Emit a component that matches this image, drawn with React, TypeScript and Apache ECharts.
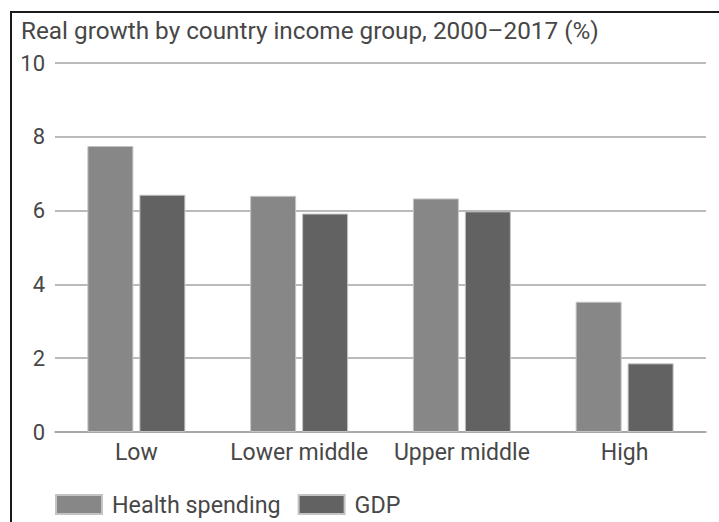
import React, { useEffect, useRef } from "react";
import * as echarts from "echarts";

const categories = ["Low", "Lower middle", "Upper middle", "High"];
const healthSpending = [7.75, 6.4, 6.33, 3.53];
const gdp = [6.43, 5.92, 5.98, 1.86];
const seriesNames = ["Health spending", "GDP"];
const titleText = "Real growth by country income group, 2000–2017 (%)";

const FONT = "Roboto, 'DejaVu Sans', sans-serif";
const TEXT = "#474747";

export default function App() {
  const ref = useRef<HTMLDivElement>(null);
  useEffect(() => {
    if (!ref.current) return;
    const chart = echarts.init(ref.current, undefined, { renderer: "svg" });
    chart.setOption({
      animation: false,
      backgroundColor: "#ffffff",
      textStyle: { fontFamily: FONT },
      title: {
        text: titleText,
        left: 21,
        top: 18,
        padding: 0,
        textStyle: { fontFamily: FONT, fontSize: 24.3, fontWeight: "normal", color: TEXT },
      },
      graphic: [
        {
          type: "polyline",
          shape: { points: [[11, 522], [11, 12], [719, 12]] },
          style: { stroke: "#1a1a1a", lineWidth: 2, fill: "none" },
          silent: true,
        },
      ],
      legend: {
        left: 55,
        top: 493,
        padding: 0,
        itemWidth: 46,
        itemHeight: 19,
        itemGap: 17,
        icon: "rect",
        textStyle: { fontFamily: FONT, fontSize: 23.3, color: TEXT, padding: [0, 0, 0, 5] },
        data: seriesNames,
      },
      grid: { left: 55, right: 13, top: 63, bottom: 90, containLabel: false },
      xAxis: {
        type: "category",
        data: categories,
        axisLine: { show: true, lineStyle: { color: "#a3a3a3", width: 1.5 } },
        axisTick: { show: false },
        axisLabel: { interval: 0, fontFamily: FONT, fontSize: 23, color: TEXT, margin: 9 },
      },
      yAxis: {
        type: "value",
        min: 0,
        max: 10,
        interval: 2,
        axisLine: { show: false },
        axisTick: { show: false },
        axisLabel: { fontFamily: FONT, fontSize: 22, color: TEXT, margin: 10 },
        splitLine: { lineStyle: { color: "#a3a3a3", width: 1.5 } },
      },
      series: [
        {
          name: seriesNames[0],
          type: "bar",
          data: healthSpending,
          barWidth: 46,
          barGap: "13%",
          itemStyle: { color: "#878787", borderColor: "#c4c4c4", borderWidth: 1 },
        },
        {
          name: seriesNames[1],
          type: "bar",
          data: gdp,
          barWidth: 46,
          itemStyle: { color: "#626262", borderColor: "#c4c4c4", borderWidth: 1 },
        },
      ],
    });
    return () => chart.dispose();
  }, []);
  return (
    <div
      ref={ref}
      style={{ position: "fixed", left: 0, top: 0, width: 719, height: 522, background: "#fff" }}
    />
  );
}
